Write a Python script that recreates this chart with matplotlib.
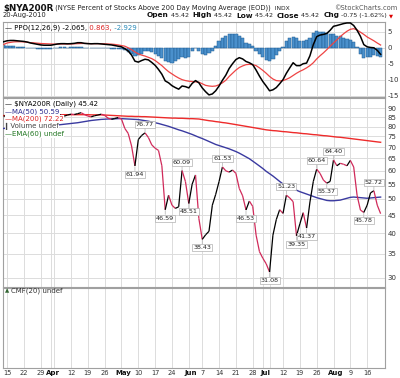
import numpy as np
import pandas as pd
import matplotlib
matplotlib.use("Agg")
import matplotlib.pyplot as plt
from matplotlib.collections import LineCollection
from matplotlib.ticker import NullLocator, FixedLocator, FixedFormatter
from matplotlib.transforms import ScaledTranslation

# ---------------- data ----------------
start_date = "2010-03-12"
end_date = "2010-08-20"
holidays = ["2010-04-02", "2010-05-31", "2010-07-05"]

price = [85.5, 86.0, 86.5, 85.8, 86.2, 86.8, 86.0, 85.2, 85.8, 86.5,
         86.0, 85.3, 84.8, 85.5, 86.0, 85.6, 86.0, 86.3, 85.6, 86.2,
         86.7, 86.5, 87.0, 87.5, 86.5, 85.6, 85.2, 85.8, 86.2, 86.7,
         86.0, 84.5, 83.8, 84.3, 84.8, 84.0, 79.0, 76.5, 70.5, 61.94,
         73.5, 75.5, 76.77, 74.5, 71.0, 69.5, 68.5, 62.0, 46.59, 51.2,
         48.0, 47.0, 47.5, 60.09, 56.0, 48.51, 55.0, 58.4, 44.0, 38.43,
         39.6, 40.5, 48.0, 51.5, 56.0, 61.53, 60.0, 59.5, 60.3, 59.0,
         53.5, 51.0, 46.53, 49.3, 47.6, 39.5, 35.5, 34.0, 32.8, 31.08,
         39.5, 43.7, 46.6, 45.5, 51.23, 50.3, 49.1, 39.35, 42.5, 45.7,
         41.37, 49.0, 56.0, 60.64, 59.0, 56.5, 55.37, 56.0, 64.40, 62.0,
         63.0, 62.6, 62.0, 64.2, 61.5, 51.2, 46.5, 45.78, 48.0, 52.0,
         52.72, 48.0, 45.42]

ma50 = [79.0, 79.1, 79.2, 79.3, 79.4, 79.5, 79.6, 79.7, 79.8, 79.9,
        80.0, 80.1, 80.2, 80.3, 80.45, 80.6, 80.8, 81.0, 81.2, 81.4,
        81.6, 81.8, 82.0, 82.3, 82.6, 82.9, 83.2, 83.4, 83.6, 83.8,
        83.9, 84.0, 84.1, 84.1, 84.2, 84.2, 84.1, 84.0, 83.9, 83.8,
        83.7, 83.4, 83.1, 82.8, 82.4, 82.0, 81.6, 81.1, 80.6, 80.1,
        79.5, 78.9, 78.3, 77.8, 77.2, 76.6, 76.0, 75.3, 74.6, 74.0,
        73.3, 72.6, 71.9, 71.2, 70.7, 70.2, 69.7, 69.2, 68.6, 68.0,
        67.3, 66.5, 65.7, 64.9, 63.9, 62.9, 61.9, 60.9, 59.8, 58.9,
        58.0, 57.0, 56.0, 55.1, 54.5, 54.0, 53.5, 52.9, 52.4, 52.0,
        51.6, 51.2, 50.8, 50.4, 50.1, 49.8, 49.5, 49.4, 49.4, 49.5,
        49.6, 49.9, 50.2, 50.5, 50.6, 50.5, 50.4, 50.3, 50.2, 50.3,
        50.4, 50.5, 50.59]

ma200 = [85.9, 85.9, 86.0, 86.0, 86.0, 86.1, 86.1, 86.1, 86.2, 86.2,
         86.2, 86.2, 86.3, 86.3, 86.3, 86.3, 86.3, 86.3, 86.4, 86.4,
         86.4, 86.4, 86.4, 86.4, 86.4, 86.4, 86.3, 86.3, 86.3, 86.3,
         86.2, 86.1, 86.0, 85.9, 85.8, 85.7, 85.6, 85.5, 85.5, 85.4,
         85.4, 85.3, 85.3, 85.2, 85.1, 85.0, 84.9, 84.8, 84.7, 84.6,
         84.5, 84.5, 84.4, 84.4, 84.3, 84.2, 84.2, 84.1, 84.0, 83.7,
         83.4, 83.1, 82.9, 82.6, 82.4, 82.1, 81.9, 81.6, 81.3, 81.0,
         80.7, 80.4, 80.1, 79.8, 79.5, 79.2, 78.9, 78.6, 78.3, 78.1,
         77.9, 77.8, 77.6, 77.4, 77.3, 77.1, 76.9, 76.8, 76.6, 76.4,
         76.3, 76.1, 75.9, 75.8, 75.6, 75.4, 75.3, 75.1, 74.9, 74.7,
         74.6, 74.4, 74.2, 74.0, 73.8, 73.6, 73.4, 73.2, 73.0, 72.8,
         72.6, 72.4, 72.22]

ppo = [1.9, 2.2, 2.3, 2.3, 2.2, 2.1, 2.0, 1.8, 1.5, 1.3,
       1.1, 0.9, 0.8, 0.8, 0.8, 1.0, 1.2, 1.3, 1.3, 1.25,
       1.3, 1.4, 1.6, 1.6, 1.4, 1.3, 1.25, 1.3, 1.3, 1.2,
       1.1, 1.0, 0.9, 0.7, 0.5, 0.3, -0.3, -1.0, -2.3, -4.2,
       -4.5, -4.0, -3.6, -3.8, -4.6, -5.5, -6.8, -8.3, -10.4, -11.0,
       -11.9, -12.5, -13.0, -12.0, -12.2, -12.6, -11.2, -10.3, -11.0, -12.6,
       -13.8, -14.8, -14.5, -13.5, -12.0, -10.2, -8.6, -6.5, -5.0, -3.7,
       -3.1, -3.5, -4.3, -4.7, -5.3, -7.0, -8.9, -10.6, -12.0, -13.5,
       -13.2, -12.5, -11.3, -10.0, -8.0, -6.3, -4.7, -5.6, -5.6, -5.0,
       -4.8, -2.5, 1.0, 3.5, 4.0, 4.2, 4.5, 5.5, 6.75, 7.0,
       7.3, 7.6, 7.8, 7.8, 7.0, 5.5, 3.6, 1.0, 0.3, 0.1,
       0.0, -0.8, -2.065]

signal = [1.05, 1.5, 1.7, 1.85, 1.9, 1.9, 1.85, 1.75, 1.6, 1.55,
          1.45, 1.35, 1.3, 1.25, 1.2, 1.15, 1.15, 1.2, 1.2, 1.2,
          1.2, 1.25, 1.3, 1.35, 1.35, 1.35, 1.3, 1.3, 1.3, 1.3,
          1.25, 1.2, 1.15, 1.05, 0.9, 0.7, 0.5, 0.0, -0.6, -1.3,
          -1.9, -2.3, -2.6, -3.0, -3.4, -4.0, -4.8, -5.6, -6.6, -7.5,
          -8.2, -8.9, -9.5, -10.0, -10.3, -10.5, -10.6, -10.7, -10.8, -11.3,
          -11.8, -12.0, -12.1, -12.0, -11.6, -11.0, -10.2, -9.0, -8.0, -7.0,
          -6.2, -5.7, -5.3, -5.2, -5.3, -5.6, -6.3, -7.1, -8.0, -9.0,
          -9.8, -10.3, -10.4, -10.3, -9.9, -9.4, -8.7, -8.0, -7.4, -6.9,
          -6.3, -5.6, -4.7, -3.5, -2.5, -1.6, -0.6, 0.5, 1.5, 2.5,
          3.5, 4.4, 5.2, 5.8, 6.0, 5.6, 4.9, 4.2, 3.4, 2.8,
          2.2, 1.5, 0.863]

hist = [0.8, 0.7, 0.6, 0.45, 0.3, 0.2, 0.1, 0.0, -0.1, -0.2,
        -0.3, -0.4, -0.45, -0.45, -0.4, -0.2, 0.0, 0.1, 0.1, 0.05,
        0.1, 0.15, 0.3, 0.25, 0.05, -0.05, -0.05, 0.0, 0.0, -0.1,
        -0.15, -0.2, -0.25, -0.35, -0.4, -0.4, -0.8, -1.2, -2.0, -2.6,
        -2.2, -1.8, -1.0, -1.0, -1.4, -2.0, -2.6, -3.3, -4.0, -4.5,
        -4.7, -4.2, -3.6, -3.0, -3.3, -3.0, -1.0, 0.0, -1.0, -2.0,
        -2.2, -1.5, -1.0, 0.5, 2.0, 3.0, 3.8, 4.3, 4.4, 4.2,
        3.6, 3.0, 1.6, 1.2, 0.5, -1.0, -1.8, -3.0, -3.8, -4.3,
        -3.6, -2.2, -1.0, 0.2, 2.0, 3.0, 3.3, 3.0, 2.2, 2.0,
        2.3, 3.0, 4.6, 5.2, 5.0, 5.0, 4.8, 4.3, 4.2, 3.8,
        3.6, 3.2, 2.9, 2.4, 1.8, 0.3, -1.8, -3.2, -3.0, -2.8,
        -2.3, -2.6, -2.929]

# annotated extremes: (date, direction)
label_dates = ["2010-05-07", "2010-05-12", "2010-05-20", "2010-05-27", "2010-06-01",
               "2010-06-07", "2010-06-15", "2010-06-24", "2010-07-06", "2010-07-13",
               "2010-07-16", "2010-07-21", "2010-07-26", "2010-07-29", "2010-08-02",
               "2010-08-13", "2010-08-18"]
label_dirs = ["down", "up", "down", "up", "down",
              "down", "up", "down", "down", "up",
              "down", "down", "up", "down", "up",
              "down", "up"]

tick_dates = ["2010-03-15", "2010-03-22", "2010-03-29", "2010-04-01", "2010-04-12",
              "2010-04-19", "2010-04-26", "2010-05-03", "2010-05-10", "2010-05-17",
              "2010-05-24", "2010-06-01", "2010-06-07", "2010-06-14", "2010-06-21",
              "2010-06-28", "2010-07-01", "2010-07-12", "2010-07-19", "2010-07-26",
              "2010-08-02", "2010-08-09", "2010-08-16"]
tick_labels = ["15", "22", "29", "Apr", "12", "19", "26", "May", "10", "17", "24",
               "Jun", "7", "14", "21", "28", "Jul", "12", "19", "26", "Aug", "9", "16"]
extra_grid_dates = ["2010-04-05", "2010-07-06"]

main_ticks = [30, 35, 40, 45, 50, 55, 60, 65, 70, 75, 80, 85, 90]
ppo_ticks = [5, 0, -5, -10, -15]

# ---------------- setup ----------------
dates = pd.bdate_range(start_date, end_date)
dates = dates[~dates.isin(pd.to_datetime(holidays))]
x = np.arange(len(dates))
pos = {d: i for i, d in enumerate(dates)}

def xi(d):
    return pos[pd.Timestamp(d)]

price = np.array(price); ma50 = np.array(ma50); ma200 = np.array(ma200)
ppo = np.array(ppo); signal = np.array(signal); hist = np.array(hist)

plt.rcParams['font.family'] = ['DejaVu Sans']
fig = plt.figure(figsize=(4.0, 3.78), dpi=100)
W, H = 400.0, 378.0
L, R = 3.0, 385.0
MAIN_TOP, MAIN_BOT = 97.5, 286.5

def add_ax(top, bottom):
    return fig.add_axes([L / W, 1 - bottom / H, (R - L) / W, (bottom - top) / H])

ax_ppo = add_ax(22, 96.5)
ax_main = add_ax(MAIN_TOP, MAIN_BOT)
ax_cmf = add_ax(288, 368)

GRID = '#dcdcdc'
SPINE = '#a0a0a0'
TXT = '#333333'
xlim = (-0.2, 113.3)
grid_x = [xi(d) for d in tick_dates] + [xi(d) for d in extra_grid_dates]

for ax in (ax_ppo, ax_main, ax_cmf):
    ax.set_xlim(*xlim)
    for s in ax.spines.values():
        s.set_color(SPINE)
        s.set_linewidth(0.8)
    for gx in grid_x:
        ax.axvline(gx, color=GRID, lw=0.7, zorder=0)
    ax.tick_params(axis='both', length=0, labelsize=5, colors=TXT, pad=2)
    ax.set_xticks([])

# ---------------- PPO panel ----------------
ax_ppo.set_ylim(-15.3, 8.1)
for yv in ppo_ticks:
    ax_ppo.axhline(yv, color=GRID, lw=0.7, zorder=0)
ax_ppo.bar(x, hist, width=0.95, color='#4a90cc', edgecolor='#1f5c92', linewidth=0.35, zorder=2)
ax_ppo.plot(x, signal, color='#ee4444', lw=0.9, zorder=3)
ax_ppo.plot(x, ppo, color='black', lw=1.1, zorder=4)
ax_ppo.yaxis.tick_right()
ax_ppo.set_yticks(ppo_ticks)
ax_ppo.set_yticklabels([str(v) for v in ppo_ticks])
for lab in ax_ppo.get_yticklabels():
    lab.set_horizontalalignment('left')

# PPO legend
t0 = ax_ppo.text(0.006, 0.92, "\u2014 PPO(12,26,9) %.3f," % ppo[-1], transform=ax_ppo.transAxes,
                 fontsize=5, color='black', va='center', ha='left', zorder=6)
t1 = ax_ppo.annotate(" %.3f," % signal[-1], xy=(1, 0), xycoords=t0, fontsize=5,
                     color='#dd2222', va='bottom', ha='left', zorder=6)
t2 = ax_ppo.annotate(" %.3f" % hist[-1], xy=(1, 0), xycoords=t1, fontsize=5,
                     color='#2a8ab8', va='bottom', ha='left', zorder=6)

# ---------------- main panel ----------------
ax_main.set_yscale('log')
ax_main.set_ylim(28.3, 96.6)
ax_main.yaxis.set_minor_locator(NullLocator())
for yv in main_ticks:
    ax_main.axhline(yv, color=GRID, lw=0.7, zorder=0)
ax_main.plot(x, ma200, color='#ee2b2b', lw=1.0, zorder=3)
ax_main.plot(x, ma50, color='#3a3aa0', lw=1.0, zorder=3)

segs = [[(x[i], price[i]), (x[i + 1], price[i + 1])] for i in range(len(x) - 1)]
cols = ['black' if price[i + 1] >= price[i] else '#d02a5a' for i in range(len(x) - 1)]
ax_main.add_collection(LineCollection(segs, colors=cols, linewidths=0.9, zorder=4))

ax_main.yaxis.tick_right()
ax_main.yaxis.set_major_locator(FixedLocator(main_ticks))
ax_main.yaxis.set_major_formatter(FixedFormatter([str(v) for v in main_ticks]))
for lab in ax_main.get_yticklabels():
    lab.set_horizontalalignment('left')

for d, dr in zip(label_dates, label_dirs):
    i = xi(d)
    v = price[i]
    dy = 6 if dr == 'up' else -6
    ax_main.annotate("%.2f" % v, xy=(x[i], v), xytext=(0, dy), textcoords='offset points',
                     ha='center', va='center', fontsize=4.6, color='#222222', zorder=7,
                     bbox=dict(boxstyle='square,pad=0.15', fc='white', ec='#b0b0b0', lw=0.5),
                     arrowprops=dict(arrowstyle='-', color='#b0b0b0', lw=0.5,
                                     shrinkA=0, shrinkB=0.5))

legend_rows = [("\u2014 $NYA200R (Daily) %.2f" % price[-1], 'black'),
               ("\u2014MA(50) %.2f" % ma50[-1], '#2a2a90'),
               ("\u2014MA(200) %.2f" % ma200[-1], '#dd2222'),
               ("\u258eVolume undef", '#444444'),
               ("\u2014EMA(60) undef", '#227722')]
row_y = [104, 111.5, 119, 126.5, 134]
for (s, c), yy in zip(legend_rows, row_y):
    ax_main.text((5 - L) / (R - L), 1 - (yy - MAIN_TOP) / (MAIN_BOT - MAIN_TOP), s,
                 transform=ax_main.transAxes, fontsize=5, color=c, va='center', ha='left',
                 zorder=8, bbox=dict(boxstyle='square,pad=0.05', fc='white', ec='none'))

# ---------------- CMF panel ----------------
ax_cmf.set_yticks([])
ax_cmf.text((5 - L) / (R - L), 1 - (291 - 288) / 80.0, "\u25b2", transform=ax_cmf.transAxes,
            fontsize=4, color='#336633', va='center', ha='left')
ax_cmf.text((11 - L) / (R - L), 1 - (291 - 288) / 80.0, "CMF(20) undef", transform=ax_cmf.transAxes,
            fontsize=5, color='#333333', va='center', ha='left')

ax_cmf.set_xticks([xi(d) for d in tick_dates])
ax_cmf.set_xticklabels(tick_labels)
ax_cmf.tick_params(axis='x', pad=1.5, labelsize=4.8)
for lab, s in zip(ax_cmf.get_xticklabels(), tick_labels):
    if not s.isdigit():
        lab.set_fontweight('bold')
        lab.set_fontsize(5.0)
        lab.set_color('#111111')
        # month labels sit slightly right of their gridline, as in the reference
        lab.set_transform(lab.get_transform() + ScaledTranslation(1.6 / 72, 0, fig.dpi_scale_trans))

# ---------------- header ----------------
h1 = fig.text(3 / W, 1 - 8 / H, "$NYA200R", fontsize=6.3, fontweight='bold', color='#111111',
              va='center', ha='left')
a2 = plt.annotate(" (NYSE Percent of Stocks Above 200 Day Moving Average (EOD))", xy=(1, 0.5),
                  xycoords=h1, va='center', ha='left', fontsize=4.9, color='#222222',
                  annotation_clip=False)
a3 = plt.annotate("  INDX", xy=(1, 0.5), xycoords=a2, va='center', ha='left', fontsize=4.3,
                  color='#222222', annotation_clip=False)
fig.text(397 / W, 1 - 8 / H, "\u00a9StockCharts.com", fontsize=4.8, color='#555555',
         va='center', ha='right')
fig.text(3 / W, 1 - 15.5 / H, "20-Aug-2010", fontsize=4.9, color='#222222', va='center', ha='left')

pieces = [("Open", True), (" %.2f  " % price[-1], False), ("High", True), (" %.2f  " % price[-1], False),
          ("Low", True), (" %.2f  " % price[-1], False), ("Close", True), (" %.2f  " % price[-1], False),
          ("Chg", True), (" -0.75 (-1.62%) ", False)]
prev = fig.text(147 / W, 1 - 15.5 / H, "", fontsize=5, va='center', ha='left')
for s, b in pieces:
    prev = plt.annotate(s, xy=(1, 0.5), xycoords=prev, va='center', ha='left',
                        fontsize=5.3 if b else 4.6, fontweight='bold' if b else 'normal',
                        color='#111111' if b else '#222222', annotation_clip=False)
plt.annotate("\u25bc", xy=(1, 0.5), xycoords=prev, va='center', ha='left', fontsize=3.8,
             color='#dd0000', annotation_clip=False)

fig.savefig("out.png", dpi=100)
